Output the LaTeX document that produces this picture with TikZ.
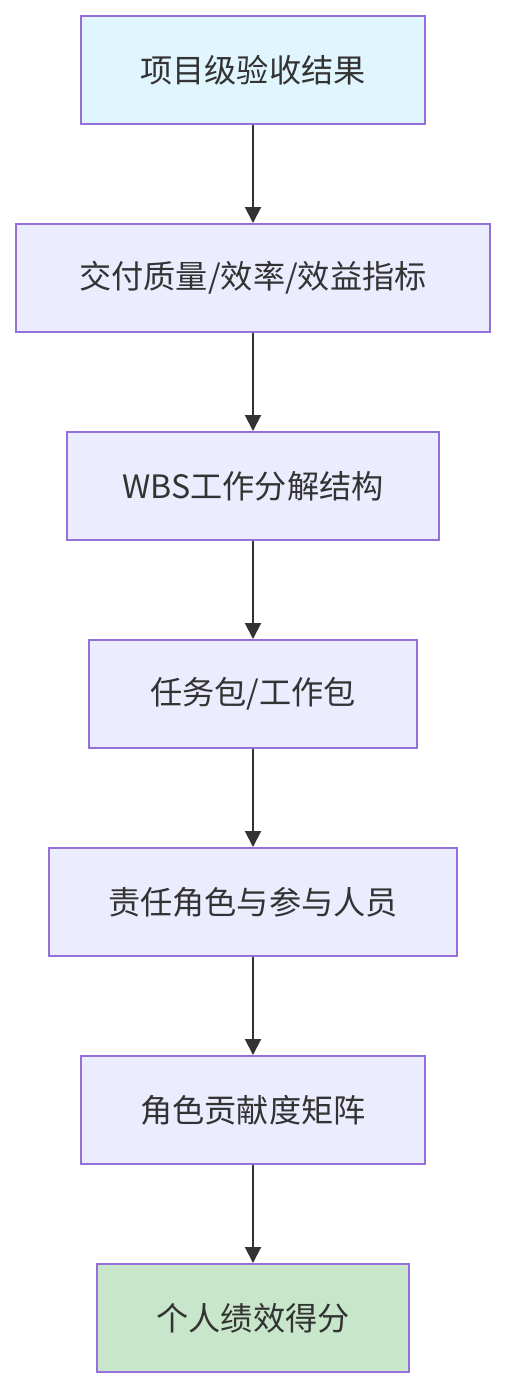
\documentclass[tikz,border=0pt]{standalone}
\usepackage{fontspec}
\setmainfont{Noto Sans CJK SC}
\usetikzlibrary{arrows.meta}
\definecolor{boxfill}{HTML}{ECECFF}
\definecolor{boxline}{HTML}{9370DB}
\definecolor{topfill}{HTML}{E1F5FE}
\definecolor{endfill}{HTML}{C8E6C9}
\definecolor{arrowc}{HTML}{333333}
\begin{document}
\begin{tikzpicture}[x=0.5pt,y=-0.5pt,
  flowbox/.style={draw=boxline,line width=1pt,fill=boxfill,rectangle,inner sep=0pt,
    minimum height=54pt,font=\fontsize{16.1pt}{18pt}\selectfont,text=arrowc},
  flowarrow/.style={draw=arrowc,line width=1pt,-{Triangle[width=8pt,length=8pt]}}]
\useasboundingbox (0,0) rectangle (505,1388);
\node[flowbox,fill=topfill,minimum width=172pt] (a) at (253,70) {项目级验收结果};
\node[flowbox,minimum width=237pt] (b) at (253,278) {交付质量/效率/效益指标};
\node[flowbox,minimum width=186pt] (c) at (253,486) {WBS工作分解结构};
\node[flowbox,minimum width=164pt] (d) at (253,694) {任务包/工作包};
\node[flowbox,minimum width=204pt] (e) at (253,902) {责任角色与参与人员};
\node[flowbox,minimum width=172pt] (f) at (253,1110) {角色贡献度矩阵};
\node[flowbox,fill=endfill,minimum width=156pt] (g) at (253,1318) {个人绩效得分};
\draw[flowarrow] (a) -- (b);
\draw[flowarrow] (b) -- (c);
\draw[flowarrow] (c) -- (d);
\draw[flowarrow] (d) -- (e);
\draw[flowarrow] (e) -- (f);
\draw[flowarrow] (f) -- (g);
\end{tikzpicture}
\end{document}
